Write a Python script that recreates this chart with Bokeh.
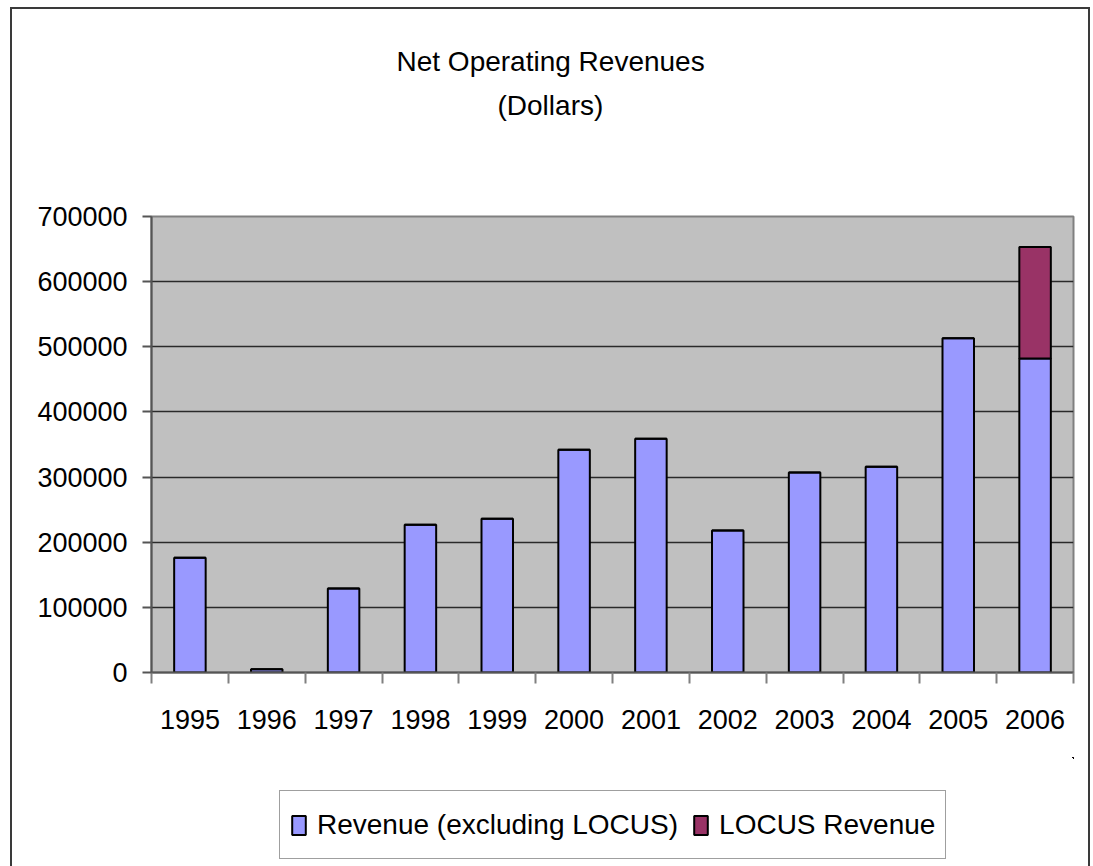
from bokeh.plotting import figure
from bokeh.layouts import column
from bokeh.models import (Range1d, FixedTicker, Legend, LegendItem, Title,
                          NumeralTickFormatter, ColumnDataSource)
from bokeh.embed import file_html
from bokeh.resources import INLINE

# ---- data ----
years = ["1995", "1996", "1997", "1998", "1999", "2000",
         "2001", "2002", "2003", "2004", "2005", "2006"]
revenue_excl_locus = [176000, 5000, 129000, 227000, 236000, 342000,
                      359000, 218000, 307000, 316000, 513000, 482000]
locus_revenue = [0, 0, 0, 0, 0, 0, 0, 0, 0, 0, 0, 171000]
y_ticks = [0, 100000, 200000, 300000, 400000, 500000, 600000, 700000]
series_names = ["Revenue (excluding LOCUS)", "LOCUS Revenue"]
series_cols = ["rev", "locus"]
series_colors = ["#9999FF", "#993366"]

FONT = "Liberation Sans"

xpos = [i + 0.5 for i in range(len(years))]
source = ColumnDataSource(dict(x=xpos, rev=revenue_excl_locus, locus=locus_revenue))

p = figure(width=1076, height=748,
           x_range=Range1d(0, len(years)), y_range=Range1d(0, y_ticks[-1]),
           output_backend="svg", toolbar_location=None, title=None,
           min_border_left=139, min_border_right=15,
           min_border_top=207, min_border_bottom=85)

p.background_fill_color = "#C0C0C0"
p.border_fill_color = "white"
p.outline_line_color = "#808080"
p.outline_line_width = 2

rs = p.vbar_stack(series_cols, x="x", width=0.41, source=source,
                  fill_color=series_colors, line_color="black",
                  line_width=2)

# grid
p.xgrid.visible = False
p.ygrid.ticker = FixedTicker(ticks=y_ticks)
p.ygrid.grid_line_color = "#2a2a2a"
p.ygrid.grid_line_width = 1.3

# y axis
p.yaxis.ticker = FixedTicker(ticks=y_ticks)
p.yaxis.formatter = NumeralTickFormatter(format="0")
p.yaxis.axis_line_color = "#555555"
p.yaxis.axis_line_width = 2
p.yaxis.major_tick_line_color = "#555555"
p.yaxis.major_tick_line_width = 2
p.yaxis.major_tick_out = 9
p.yaxis.major_tick_in = 0
p.yaxis.minor_tick_line_color = None
p.yaxis.major_label_standoff = 15
p.yaxis.major_label_text_font = FONT
p.yaxis.major_label_text_font_size = "27px"
p.yaxis.major_label_text_color = "black"

# x axis
p.xaxis.ticker = FixedTicker(ticks=xpos, minor_ticks=list(range(len(years) + 1)))
p.xaxis.major_label_overrides = {x: y for x, y in zip(xpos, years)}
p.xaxis.axis_line_color = "#555555"
p.xaxis.axis_line_width = 2
p.xaxis.major_tick_out = 0
p.xaxis.major_tick_in = 0
p.xaxis.major_tick_line_color = None
p.xaxis.minor_tick_out = 11
p.xaxis.minor_tick_in = 0
p.xaxis.minor_tick_line_color = "#808080"
p.xaxis.minor_tick_line_width = 2
p.xaxis.major_label_standoff = 26
p.xaxis.major_label_text_font = FONT
p.xaxis.major_label_text_font_size = "27px"
p.xaxis.major_label_text_color = "black"

# titles (first added sits nearest the frame); first one is a blank spacer
p.add_layout(Title(text=" ", align="left", text_font=FONT,
                   text_font_size="28px", text_color="white",
                   standoff=63), "above")
p.add_layout(Title(text="(Dollars)", align="left", text_font=FONT,
                   text_font_size="28px", text_font_style="normal",
                   text_color="black", standoff=0, offset=346), "above")
p.add_layout(Title(text="Net Operating Revenues", align="left", text_font=FONT,
                   text_font_size="28px", text_font_style="normal",
                   text_color="black", standoff=21, offset=245), "above")

# legend strip under the chart (its key renderers lie outside its view ranges)
lf = figure(width=1076, height=110, x_range=Range1d(-2, -1), y_range=Range1d(-2, -1),
            output_backend="svg", toolbar_location=None, title=None,
            x_axis_location=None, y_axis_location=None, min_border=0)
lf.xgrid.visible = False
lf.ygrid.visible = False
lf.outline_line_color = None
lf.background_fill_color = "white"
lf.border_fill_color = "white"
key_renderers = [lf.vbar(x="x", top=col, bottom=col, source=source, width=0.41,
                         fill_color=c, line_color="black", line_width=2)
                 for col, c in zip(series_cols, series_colors)]

legend = Legend(items=[LegendItem(label=n, renderers=[r])
                       for n, r in zip(series_names, key_renderers)],
                orientation="horizontal", location=(128, 8),
                label_text_font=FONT, label_text_font_size="28px",
                label_text_color="black",
                glyph_width=17, glyph_height=24, label_height=47,
                label_standoff=10, spacing=14, padding=10, margin=0,
                border_line_color="#404040", border_line_width=1.5,
                background_fill_color="white", background_fill_alpha=1)
lf.add_layout(legend)

layout = column(p, lf, spacing=0)
layout.styles = {"border": "2px solid #3a3a3a", "margin": "7px 0px 0px 10px"}

open("out.html", "w").write(file_html(layout, INLINE))
